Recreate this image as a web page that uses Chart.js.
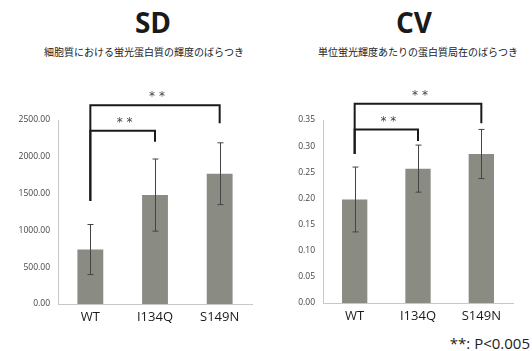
<!DOCTYPE html>
<html>
<head>
<meta charset="utf-8">
<script src="https://cdn.jsdelivr.net/npm/chart.js@4"></script>
<style>
  body { margin: 0; background: #fff; width: 532px; height: 351px; position: relative; overflow: hidden;
         font-family: "Noto Sans CJK JP", "Open Sans", sans-serif; }
  canvas { position: absolute; top: 0; }
  .title { position: absolute; font-family: "Open Sans", "Noto Sans", sans-serif; font-weight: bold;
           font-size: 28px; color: #1a1a1a; top: 4px; transform: translateX(-50%); line-height: 36px; }
  .sub { position: absolute; font-size: 10px; color: #222; top: 44px; transform: translateX(-50%); white-space: nowrap; }
  .note { position: absolute; right: 2px; top: 333px; font-family: "Open Sans", sans-serif; font-size: 15px; color: #222; }
</style>
</head>
<body>
<div class="title" style="left:153px">SD</div>
<div class="sub" style="left:144px">細胞質における蛍光蛋白質の輝度のばらつき</div>
<div class="title" style="left:414px">CV</div>
<div class="sub" style="left:418px">単位蛍光輝度あたりの蛋白質局在のばらつき</div>
<div class="note">**: P&lt;0.005</div>
<canvas id="sd" width="266" height="351" style="left:0"></canvas>
<canvas id="cv" width="266" height="351" style="left:266px"></canvas>
<script>
const categories = ["WT", "I134Q", "S149N"];

const sdValues = [740, 1480, 1770];
const sdErrors = [340, 490, 420];
const sdTicks = [0, 500, 1000, 1500, 2000, 2500];

const cvValues = [0.198, 0.257, 0.285];
const cvErrors = [0.062, 0.045, 0.047];
const cvTicks = [0, 0.05, 0.1, 0.15, 0.2, 0.25, 0.3, 0.35];

// significance brackets: [from, to, top value, left leg bottom, right leg bottom]
const sdBrackets = [[0, 2, 2700, 1400, 2455], [0, 1, 2355, 1400, 2205]];
const cvBrackets = [[0, 2, 0.381, 0.285, 0.344], [0, 1, 0.332, 0.285, 0.31]];

const extras = {
  id: "extras",
  afterDatasetsDraw(chart, args, opts) {
    const ctx = chart.ctx;
    const x = chart.scales.x, y = chart.scales.y;
    ctx.save();
    // error bars
    ctx.strokeStyle = "#444";
    ctx.lineWidth = 1;
    opts.values.forEach((v, i) => {
      const cx = Math.round(x.getPixelForValue(i)) + 0.5;
      const t = y.getPixelForValue(v + opts.errors[i]);
      const b = y.getPixelForValue(v - opts.errors[i]);
      ctx.beginPath();
      ctx.moveTo(cx, t); ctx.lineTo(cx, b);
      ctx.moveTo(cx - 3, t); ctx.lineTo(cx + 3, t);
      ctx.moveTo(cx - 3, b); ctx.lineTo(cx + 3, b);
      ctx.stroke();
    });
    // brackets
    ctx.strokeStyle = "#1a1a1a";
    ctx.lineWidth = 2;
    ctx.fillStyle = "#444";
    ctx.font = "12px 'DejaVu Sans'";
    ctx.textAlign = "center";
    ctx.textBaseline = "middle";
    opts.brackets.forEach(([a, b, top, lb, rb]) => {
      const xa = x.getPixelForValue(a), xb = x.getPixelForValue(b);
      const yt = y.getPixelForValue(top);
      ctx.beginPath();
      ctx.moveTo(xa, y.getPixelForValue(lb));
      ctx.lineTo(xa, yt);
      ctx.lineTo(xb, yt);
      ctx.lineTo(xb, y.getPixelForValue(rb));
      ctx.stroke();
      ctx.fillText("* *", (xa + xb) / 2 + 2, yt - 8);
    });
    ctx.restore();
  }
};

function makeChart(id, values, errors, ticks, brackets, yWidth, rightPad, xHeight, digits) {
  new Chart(document.getElementById(id), {
    type: "bar",
    data: {
      labels: categories,
      datasets: [{ data: values, backgroundColor: "#8a8c84", barPercentage: 0.8, categoryPercentage: 0.5 }]
    },
    options: {
      responsive: false,
      animation: false,
      layout: { padding: { top: 120, right: rightPad, left: 0, bottom: 0 } },
      plugins: {
        legend: { display: false },
        tooltip: { enabled: false },
        extras: { values: values, errors: errors, brackets: brackets }
      },
      scales: {
        x: {
          grid: { display: false, drawTicks: false },
          border: { color: "#c8c8c8" },
          ticks: { color: "#1a1a1a", font: { family: "'Open Sans'", size: 13 }, padding: 5 },
          afterFit: s => { s.height = xHeight; }
        },
        y: {
          min: 0,
          max: ticks[ticks.length - 1],
          afterBuildTicks: s => { s.ticks = ticks.map(v => ({ value: v })); },
          grid: { display: false, drawTicks: true, tickLength: 3, color: "#c8c8c8" },
          border: { color: "#c8c8c8" },
          ticks: {
            color: "#444",
            font: { family: "'Open Sans'", size: 8.5 },
            padding: 5,
            callback: v => Number(v).toFixed(digits)
          },
          afterFit: s => { s.width = yWidth; }
        }
      }
    },
    plugins: [extras]
  });
}

makeChart("sd", sdValues, sdErrors, sdTicks, sdBrackets, 58, 14, 47, 2);
makeChart("cv", cvValues, cvErrors, cvTicks, cvBrackets, 57, 19, 48, 2);
</script>
</body>
</html>
